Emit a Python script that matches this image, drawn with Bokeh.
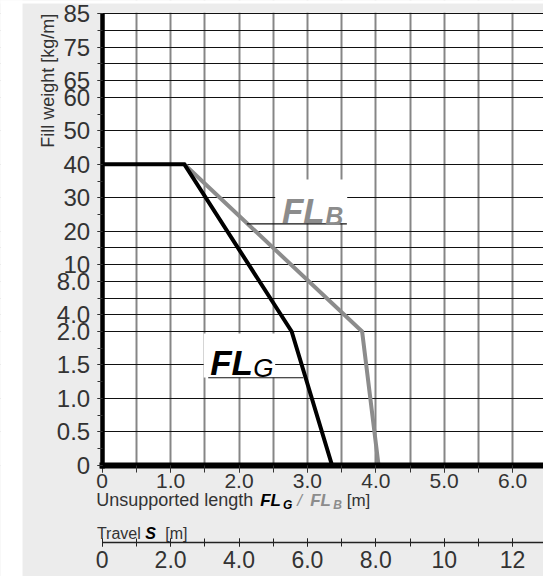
import numpy as np
from bokeh.plotting import figure
from bokeh.models import Range1d, LinearAxis, FixedTicker, Label, BoxAnnotation
from bokeh.embed import file_html
from bokeh.resources import INLINE

# ---------------- data ----------------
# fill-weight axis: non-linear, each labelled value sits on a grid slot
fill_tick_values = [0, 0.5, 1.0, 1.5, 2.0, 4.0, 8.0, 10, 20, 30, 40, 50, 60, 65, 75, 85]
fill_tick_labels = ["0", "0.5", "1.0", "1.5", "2.0", "4.0", "8.0", "10", "20", "30",
                    "40", "50", "60", "65", "75", "85"]
fill_tick_slots = [0, 2, 4, 6, 8, 9, 11, 12, 14, 16, 18, 20, 22, 23, 25, 27]
fill_grid_slots = [0, 2, 4, 6, 8, 9, 10, 11, 12, 13, 14, 16, 18, 20, 22, 23, 24, 25, 26, 27]

# unsupported length [m] vs fill weight [kg/m]
fl_g_length = [0.0, 1.2, 2.77, 3.36]
fl_g_weight = [40, 40, 2.0, 0]
fl_b_length = [1.2, 3.8, 4.04]
fl_b_weight = [40, 2.0, 0]

length_ticks = [0, 1, 2, 3, 4, 5, 6]
length_labels = ["0", "1.0", "2.0", "3.0", "4.0", "5.0", "6.0"]
length_minor = [i * 0.5 for i in range(0, 14)]
grid_x = [i * 0.5 for i in range(1, 14)]

travel_ticks = [0, 2, 4, 6, 8, 10, 12]
travel_labels = ["0", "2.0", "4.0", "6.0", "8.0", "10", "12"]
travel_minor = list(range(0, 14))


def slot(w):
    return np.interp(w, fill_tick_values, fill_tick_slots)


FONT = "Liberation Sans"
TXT = "#333333"
GRAY = "#8c8c8c"
BG = "#ececec"

W, H = 543, 576          # canvas size
PX_X = 68.4              # px per metre
PX_Y = 16.72             # px per slot
X0 = 101.7               # canvas x of length 0
Y27 = 13.3               # canvas y of top slot
x_start = -X0 / PX_X
x_end = (W - X0) / PX_X
y_end = 27 + Y27 / PX_Y
y_start = 27 - (H - Y27) / PX_Y

p = figure(width=W, height=H,
           x_range=Range1d(x_start, x_end), y_range=Range1d(y_start, y_end),
           output_backend="svg", toolbar_location=None,
           min_border=0, min_border_left=0, min_border_right=0,
           min_border_top=0, min_border_bottom=0,
           background_fill_color="white", border_fill_color=BG,
           outline_line_color=None)
p.extra_x_ranges = {"travel": Range1d(2 * x_start, 2 * x_end)}

# ---- grids ----
p.xgrid.ticker = FixedTicker(ticks=grid_x)
p.xgrid.grid_line_color = "#868686"
p.xgrid.grid_line_width = 2
p.ygrid.ticker = FixedTicker(ticks=fill_grid_slots)
p.ygrid.grid_line_color = "#111111"
p.ygrid.grid_line_width = 1.2

# outer limits a little beyond the canvas
XL, XR = x_start - 1, x_end + 1
YB, YT = y_start - 1, y_end + 1


def box(color, left=XL, right=XR, bottom=YB, top=YT):
    p.add_layout(BoxAnnotation(left=left, right=right, bottom=bottom, top=top,
                               fill_color=color, fill_alpha=1, line_alpha=0,
                               level="underlay"))


# gray surround (hides grid outside the chart area)
box(BG, right=0)
box(BG, top=0)
box(BG, bottom=27.06)
# white page strips at the far left and top
box("white", right=x_start + 22 / PX_X)
box("white", bottom=y_end - 3 / PX_Y)
# white boxes behind curve labels
box("white", left=1.484, right=2.529, bottom=5.25, top=7.88)
box("white", left=2.529, right=3.582, bottom=14.46, top=17.09)

# ---- curves ----
p.line(fl_b_length, slot(fl_b_weight), line_color=GRAY, line_width=4, line_join="miter")
p.line(fl_g_length, slot(fl_g_weight), line_color="black", line_width=4, line_join="miter")

# leader lines under the curve labels
p.segment(x0=[1.55, 2.115], y0=[5.232, 14.44], x1=[2.94, 3.577], y1=[5.232, 14.44],
          line_color="#111111", line_width=1.2)

# ---- left axis ----
ya = p.yaxis[0]
ya.fixed_location = 0
ya.ticker = FixedTicker(ticks=fill_tick_slots, minor_ticks=list(range(0, 28)))
ya.major_label_overrides = {s: l for s, l in zip(fill_tick_slots, fill_tick_labels)}
ya.bounds = (-0.18, 27)
ya.axis_line_width = 4.5
ya.axis_line_color = "black"
ya.major_tick_out = 5
ya.major_tick_in = 0
ya.minor_tick_out = 5
ya.minor_tick_in = 0
ya.major_tick_line_color = TXT
ya.minor_tick_line_color = TXT
ya.major_label_standoff = 7
ya.major_label_text_font = FONT
ya.major_label_text_font_size = "24px"
ya.major_label_text_color = TXT

# ---- bottom axis: unsupported length ----
xa = p.xaxis[0]
xa.fixed_location = 0
xa.ticker = FixedTicker(ticks=length_ticks, minor_ticks=length_minor)
xa.major_label_overrides = {t: l for t, l in zip(length_ticks, length_labels)}
xa.bounds = (-0.033, x_end)
xa.axis_line_width = 6
xa.axis_line_color = "black"
xa.major_tick_out = 7
xa.major_tick_in = 0
xa.minor_tick_out = 7
xa.minor_tick_in = 0
xa.major_tick_line_color = TXT
xa.minor_tick_line_color = TXT
xa.major_label_standoff = 2
xa.major_label_text_font = FONT
xa.major_label_text_font_size = "21px"
xa.major_label_text_color = TXT

# ---- travel axis ----
ta = LinearAxis(x_range_name="travel", fixed_location=-4.637,
                ticker=FixedTicker(ticks=travel_ticks, minor_ticks=travel_minor))
ta.major_label_overrides = {t: l for t, l in zip(travel_ticks, travel_labels)}
ta.bounds = (0, 2 * x_end)
ta.axis_line_width = 1.5
ta.axis_line_color = "#222222"
ta.major_tick_out = 4
ta.major_tick_in = 4
ta.minor_tick_out = 4
ta.minor_tick_in = 4
ta.major_tick_line_color = "#222222"
ta.minor_tick_line_color = "#222222"
ta.major_label_standoff = 4
ta.major_label_text_font = FONT
ta.major_label_text_font_size = "23px"
ta.major_label_text_color = TXT
p.add_layout(ta, "below")


def lab(x, y, text, size, color=TXT, style="normal", **kw):
    p.add_layout(Label(x=x, y=y, text=text, text_font=FONT, text_font_size=size,
                       text_font_style=style, text_color=color,
                       text_baseline=kw.pop("baseline", "alphabetic"),
                       text_align=kw.pop("align", "left"), **kw))


# y axis title
lab(-0.797, 27.0, "Fill weight [kg/m]", "18px", angle=np.pi / 2, align="right")

# curve labels
lab(1.579, 6.165, "FL", "35px", color="black", style="bold italic")
lab(2.208, 5.788, "G", "26px", color="black", style="italic")
lab(2.627, 15.238, "FL", "35px", color=GRAY, style="bold italic")
lab(3.26, 14.879, "B", "25px", color=GRAY, style="bold italic")

# x axis title pieces
lab(-0.088, -2.107, "Unsupported length", "18px")
lab(2.31, -2.107, "FL", "17px", color="black", style="bold italic")
lab(2.643, -2.36, "G", "12px", color="black", style="bold italic")
lab(2.851, -2.107, "/", "17px", color=GRAY, style="italic")
lab(3.041, -2.107, "FL", "17px", color=GRAY, style="bold italic")
lab(3.378, -2.36, "B", "12px", color=GRAY, style="bold italic")
lab(3.575, -2.107, "[m]", "17px")

# travel title pieces
lab(-0.077, -4.098, "Travel", "16px")
lab(0.629, -4.098, "S", "16px", color="black", style="bold italic")
lab(0.921, -4.098, "[m]", "16px")

open("out.html", "w").write(file_html(p, INLINE))
